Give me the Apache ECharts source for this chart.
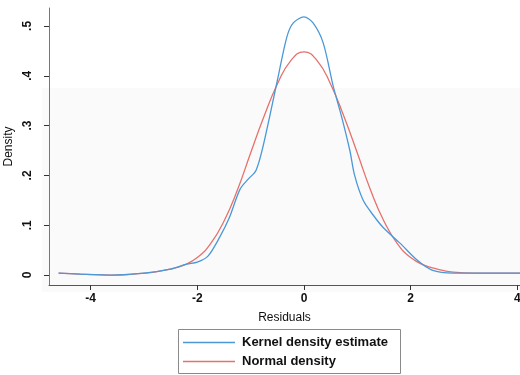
<!DOCTYPE html>
<html>
<head>
<meta charset="utf-8">
<script src="https://cdn.jsdelivr.net/npm/echarts@6/dist/echarts.min.js"></script>
<style>html,body{margin:0;padding:0;background:#fff}#c{width:520px;height:375px}</style>
</head>
<body>
<div id="c"></div>
<script>
// Kernel density estimate (blue)
var kdeX = [-4.6,-4.2,-3.6,-3.0,-2.5,-2.2,-2.0,-1.8,-1.58,-1.4,-1.2,-1.05,-0.9,-0.77,-0.5,-0.32,-0.2,0.0,0.17,0.36,0.55,0.7,0.86,0.95,1.11,1.3,1.48,1.8,2.12,2.4,2.8,3.5,4.05];
var kdeY = [0.004,0.002,0.0,0.004,0.012,0.022,0.026,0.038,0.076,0.115,0.172,0.192,0.21,0.257,0.39,0.478,0.506,0.518,0.506,0.466,0.378,0.32,0.25,0.2,0.15,0.12,0.096,0.064,0.03,0.01,0.004,0.004,0.004];
// Normal density (red)
var normX = [-4.6,-4.2,-3.6,-3.2,-2.8,-2.5,-2.25,-2.0,-1.75,-1.5,-1.25,-1.0,-0.75,-0.5,-0.25,0.0,0.25,0.5,0.75,1.0,1.25,1.5,1.75,2.0,2.25,2.5,2.8,3.2,3.6,4.05];
var normY = [0.004,0.002,0.0,0.002,0.006,0.012,0.02,0.035,0.063,0.108,0.17,0.245,0.318,0.383,0.43,0.448,0.43,0.383,0.318,0.245,0.17,0.108,0.063,0.035,0.02,0.012,0.006,0.004,0.004,0.004];
var xTicks = [-4,-2,0,2,4];
var yTicks = [0,0.1,0.2,0.3,0.4,0.5];
var seriesNames = ['Kernel density estimate','Normal density'];
var xTitle = 'Residuals';
var yTitle = 'Density';

function pairs(xs, ys){ return xs.map(function(x,i){ return [x, ys[i]]; }); }

var chart = echarts.init(document.getElementById('c'), null, {renderer:'canvas'});
var font = 'Liberation Sans, Arial, sans-serif';
chart.setOption({
  animation:false,
  backgroundColor:'#ffffff',
  grid:{left:49, top:8, width:471, height:277, containLabel:false, outerBoundsMode:'none'},
  graphic:[
    {type:'rect', z:-10, silent:true, shape:{x:42,y:88,width:478,height:204}, style:{fill:'#fafafa'}},
    {type:'rect', z:10, silent:true, shape:{x:178.5,y:329.5,width:222,height:44}, style:{fill:'rgba(0,0,0,0)', stroke:'#8a8a8a', lineWidth:1}}
  ],
  xAxis:{
    type:'value', min:-4.78, max:4.05,
    name:xTitle, nameLocation:'middle', nameGap:27,
    nameTextStyle:{fontFamily:font, fontSize:12, color:'#111'},
    axisLine:{show:true, onZero:false, lineStyle:{color:'#555', width:1}},
    axisTick:{show:true, length:5, customValues:xTicks, lineStyle:{color:'#333'}},
    axisLabel:{customValues:xTicks, fontFamily:font, fontSize:12, fontWeight:'bold', color:'#111', margin:8},
    splitLine:{show:false}
  },
  yAxis:{
    type:'value', min:-0.02, max:0.536,
    name:yTitle, nameLocation:'middle', nameGap:34, nameMoveOverlap:false,
    nameTextStyle:{fontFamily:font, fontSize:12, color:'#111'},
    axisLine:{show:true, onZero:false, lineStyle:{color:'#777', width:1}},
    axisTick:{show:true, length:5, customValues:yTicks, lineStyle:{color:'#333'}},
    axisLabel:{customValues:yTicks, rotate:90, fontFamily:font, fontSize:12, fontWeight:'bold', color:'#111', margin:15,
      formatter:function(v){ if (Math.abs(v) < 1e-9) return '0'; return String(Math.round(v*10)/10).replace(/^0\./,'.'); }},
    splitLine:{show:false}
  },
  legend:{
    orient:'vertical', left:183, top:336, itemGap:6, padding:0,
    itemWidth:52, itemHeight:1.5, icon:'rect',
    textStyle:{fontFamily:font, fontSize:13, fontWeight:'bold', color:'#111', padding:[0,0,0,2]},
    data:seriesNames
  },
  series:[
    {name:seriesNames[0], type:'line', data:pairs(kdeX,kdeY), showSymbol:false, symbol:'none',
     smooth:0.3, lineStyle:{color:'#4a98d8', width:1.3}, itemStyle:{color:'#4a98d8'}, z:3},
    {name:seriesNames[1], type:'line', data:pairs(normX,normY), showSymbol:false, symbol:'none',
     smooth:0.5, lineStyle:{color:'#e6716b', width:1.3}, itemStyle:{color:'#e6716b'}, z:2}
  ]
});
</script>
</body>
</html>
